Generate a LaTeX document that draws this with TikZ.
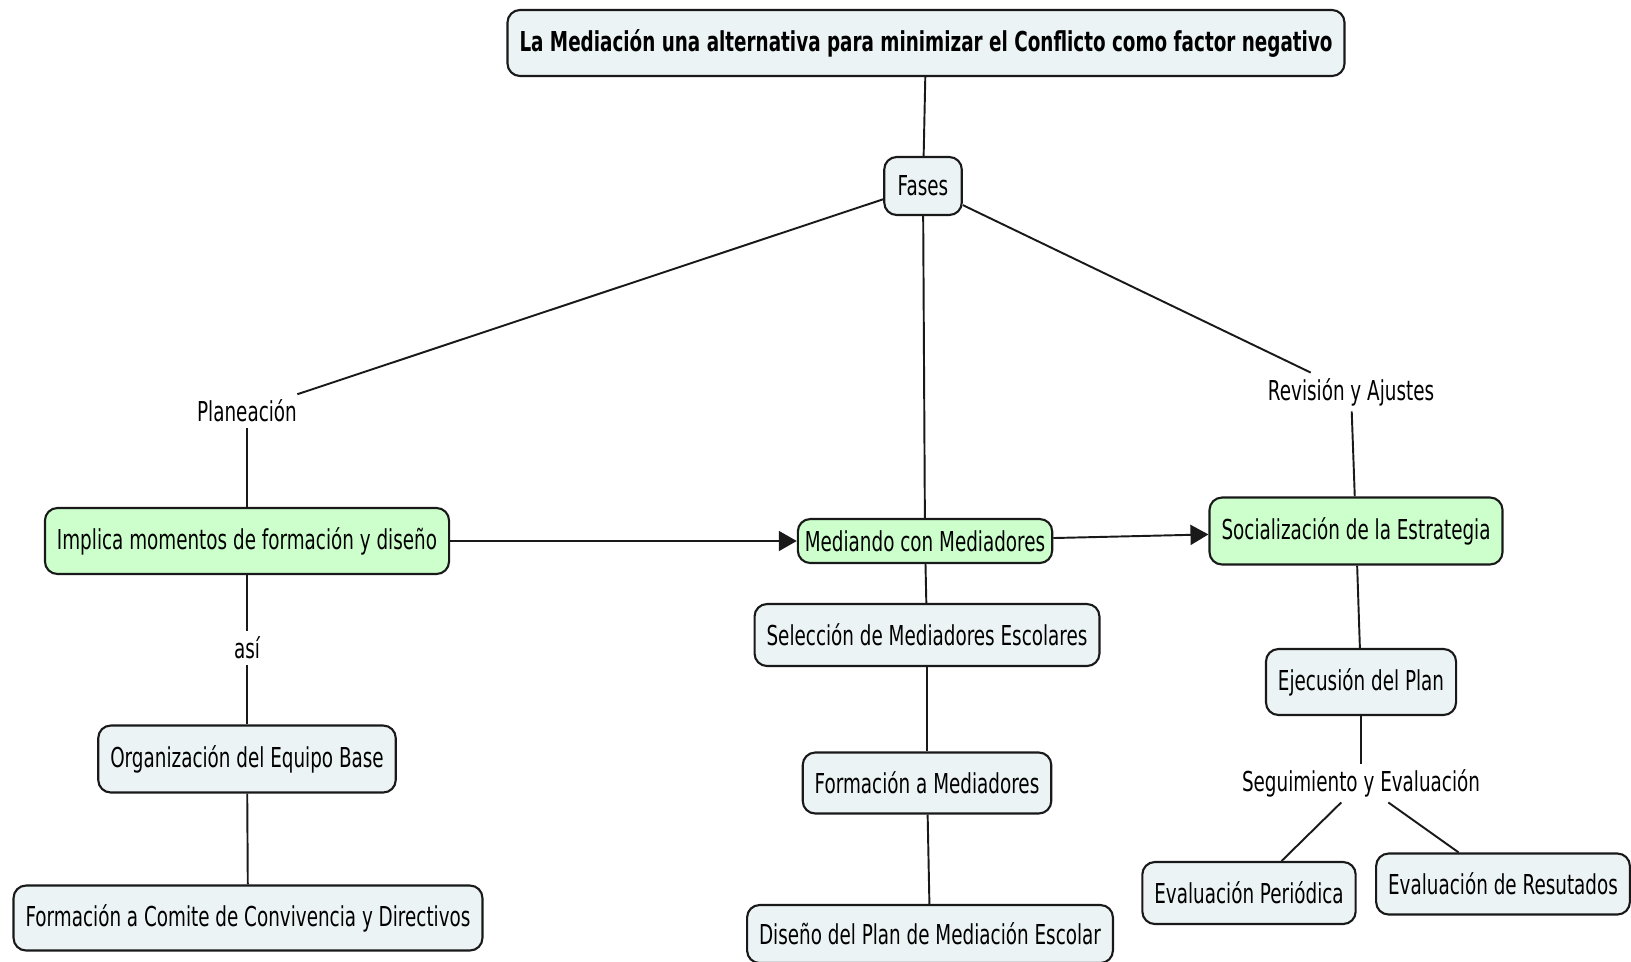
\documentclass[tikz,border=0pt]{standalone}
\usepackage{fontspec}
\setmainfont{DejaVu Sans}[FakeStretch=0.67]
\usetikzlibrary{shapes,arrows.meta,positioning,calc}
\definecolor{mapblue}{RGB}{236,243,245}
\definecolor{mapgreen}{RGB}{204,255,204}
\definecolor{mapline}{RGB}{25,25,25}

\tikzset{
    concept/.style={draw=mapline, line width=1.2pt, rounded corners=0.25cm, fill=mapblue,
        inner xsep=0.24cm, minimum height=1.3cm, font=\fontsize{15.6}{18}\selectfont},
    keyconcept/.style={concept, fill=mapgreen},
    linkword/.style={inner sep=3pt, font=\fontsize{15.6}{18}\selectfont},
    link/.style={draw=mapline, line width=1.1pt},
    flow/.style={link, -{Triangle[length=0.36cm,width=0.4cm]}}
}

\begin{document}
\begin{tikzpicture}[x=0.02cm, y=-0.02cm]
    \useasboundingbox (0,0) rectangle (1631,961);

    \node[concept, minimum height=1.32cm, font=\fontsize{15.6}{18}\selectfont\bfseries] (title) at (926,43)
        {La Mediación una alternativa para minimizar el Conflicto como factor negativo};
    \node[concept, minimum height=1.16cm, inner xsep=0.27cm] (fases) at (923,186) {Fases};

    % frases de enlace
    \node[linkword] (planea) at (247,411) {Planeación};
    \node[linkword] (revision) at (1351,392) {Revisión y Ajustes};
    \node[linkword] (asi) at (247,648) {así};
    \node[linkword] (seguim) at (1361,783) {Seguimiento y Evaluación};

    % momentos
    \node[keyconcept, minimum height=1.32cm] (implica) at (247,541) {Implica momentos de formación y diseño};
    \node[keyconcept, minimum height=0.88cm, inner xsep=0.14cm] (mediando) at (925,541) {Mediando con Mediadores};
    \node[keyconcept, minimum height=1.34cm] (social) at (1356,531) {Socialización de la Estrategia};

    \node[concept, minimum height=1.34cm] (organiz) at (247,759) {Organización del Equipo Base};
    \node[concept] (comite) at (248,918) {Formación a Comite de Convivencia y Directivos};

    \node[concept, minimum height=1.24cm] (seleccion) at (927,635) {Selección de Mediadores Escolares};
    \node[concept, minimum height=1.22cm] (formmed) at (927,783) {Formación a Mediadores};
    \node[concept, minimum height=1.16cm] (diseno) at (930,934) {Diseño del Plan de Mediación Escolar};

    \node[concept, minimum height=1.32cm] (ejecu) at (1361,682) {Ejecusión del Plan};
    \node[concept, minimum height=1.24cm] (periodica) at (1249,893) {Evaluación Periódica};
    \node[concept, minimum height=1.22cm] (resultados) at (1503,884) {Evaluación de Resutados};

    \draw[link] (title) -- (fases);
    \draw[link] (fases) -- (planea);
    \draw[link] (planea) -- (implica);
    \draw[link] (fases) -- (mediando);
    \draw[link] (fases) -- (revision);
    \draw[link] (revision) -- (social);

    \draw[flow] (implica) -- (mediando);
    \draw[flow] (mediando) -- (social);

    \draw[link] (implica) -- (asi);
    \draw[link] (asi) -- (organiz);
    \draw[link] (organiz) -- (comite);

    \draw[link] (mediando) -- (seleccion);
    \draw[link] (seleccion) -- (formmed);
    \draw[link] (formmed) -- (diseno);

    \draw[link] (social) -- (ejecu);
    \draw[link] (ejecu) -- (seguim);
    \draw[link] (seguim) -- (periodica);
    \draw[link] (seguim) -- (resultados);
\end{tikzpicture}
\end{document}
